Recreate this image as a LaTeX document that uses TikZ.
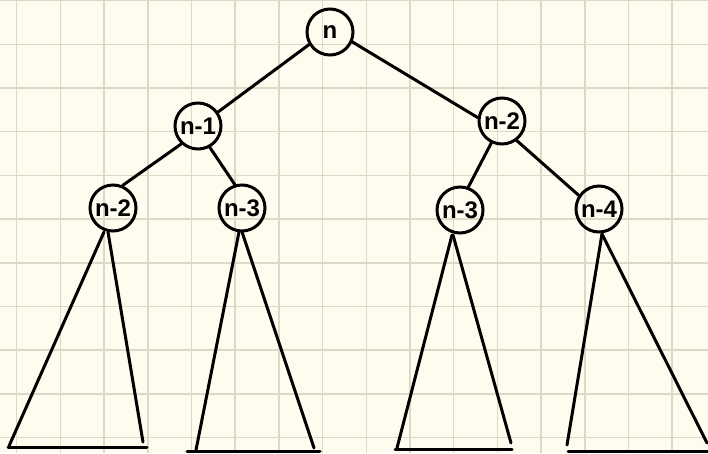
\documentclass[tikz,border=0pt]{standalone}
\usepackage{fontspec}
\setmainfont{Liberation Sans}
\definecolor{paper}{HTML}{FEFCEE}
\definecolor{gridline}{HTML}{DCD9C6}
\begin{document}
\begin{tikzpicture}[x=1pt,y=-1pt,
  ink/.style={line width=3pt,black,line cap=round,line join=round},
  val/.style={circle,draw,line width=3pt,minimum size=46pt,inner sep=0pt,
    font=\fontsize{24}{24}\selectfont\bfseries}]
  % paper and grid
  \fill[paper] (0,0) rectangle (708,453);
  \useasboundingbox (0,0) rectangle (708,453);
  \foreach \k in {0,...,15} {
    \draw[gridline,line width=1.5pt] ({16.7+43.7*\k},0) -- ({16.7+43.7*\k},453);
  }
  \foreach \k in {0,...,10} {
    \draw[gridline,line width=1.5pt] (0,{0.6+43.7*\k}) -- (708,{0.6+43.7*\k});
  }

  % call tree
  \node[val] (nA) at (330,32) {n};
  \node[val] (nB) at (198,126) {n-1};
  \node[val] (nC) at (502,121) {n-2};
  \node[val] (nD) at (113,208) {n-2};
  \node[val] (nE) at (242,208) {n-3};
  \node[val] (nF) at (460,210) {n-3};
  \node[val] (nG) at (599,209) {n-4};

  \draw[ink] (nA.211) -- (nB.35);
  \draw[ink] (nA.-24) -- (nC.172);
  \draw[ink] (nB.227) -- (nD.67);
  \draw[ink] (nB.-61) -- (nE.107);
  \draw[ink] (nC.244) -- (nF.70);
  \draw[ink] (nC.-53) -- (nG.146);

  % subtrees below the third level
  \coordinate (t1a) at (104,232); \coordinate (t1b) at (108,232);
  \coordinate (t1l) at (9,446);   \coordinate (t1r) at (143,442);
  \coordinate (t1s) at (8,447);   \coordinate (t1e) at (147,447);

  \coordinate (t2a) at (239,232); \coordinate (t2b) at (242,232);
  \coordinate (t2l) at (196,450); \coordinate (t2r) at (314,448);
  \coordinate (t2s) at (187,451); \coordinate (t2e) at (320,451);

  \coordinate (t3a) at (452,235); \coordinate (t3b) at (453,235);
  \coordinate (t3l) at (397,448); \coordinate (t3r) at (511,443);
  \coordinate (t3s) at (395,449); \coordinate (t3e) at (512,449);

  \coordinate (t4a) at (602,234); \coordinate (t4b) at (602,234);
  \coordinate (t4l) at (567,445); \coordinate (t4r) at (707,443);
  \coordinate (t4s) at (568,451); \coordinate (t4e) at (708,451);

  \foreach \t in {t1,t2,t3,t4} {
    \draw[ink] (\t a) -- (\t l);
    \draw[ink] (\t b) -- (\t r);
    \draw[ink] (\t s) -- (\t e);
  }
\end{tikzpicture}
\end{document}
